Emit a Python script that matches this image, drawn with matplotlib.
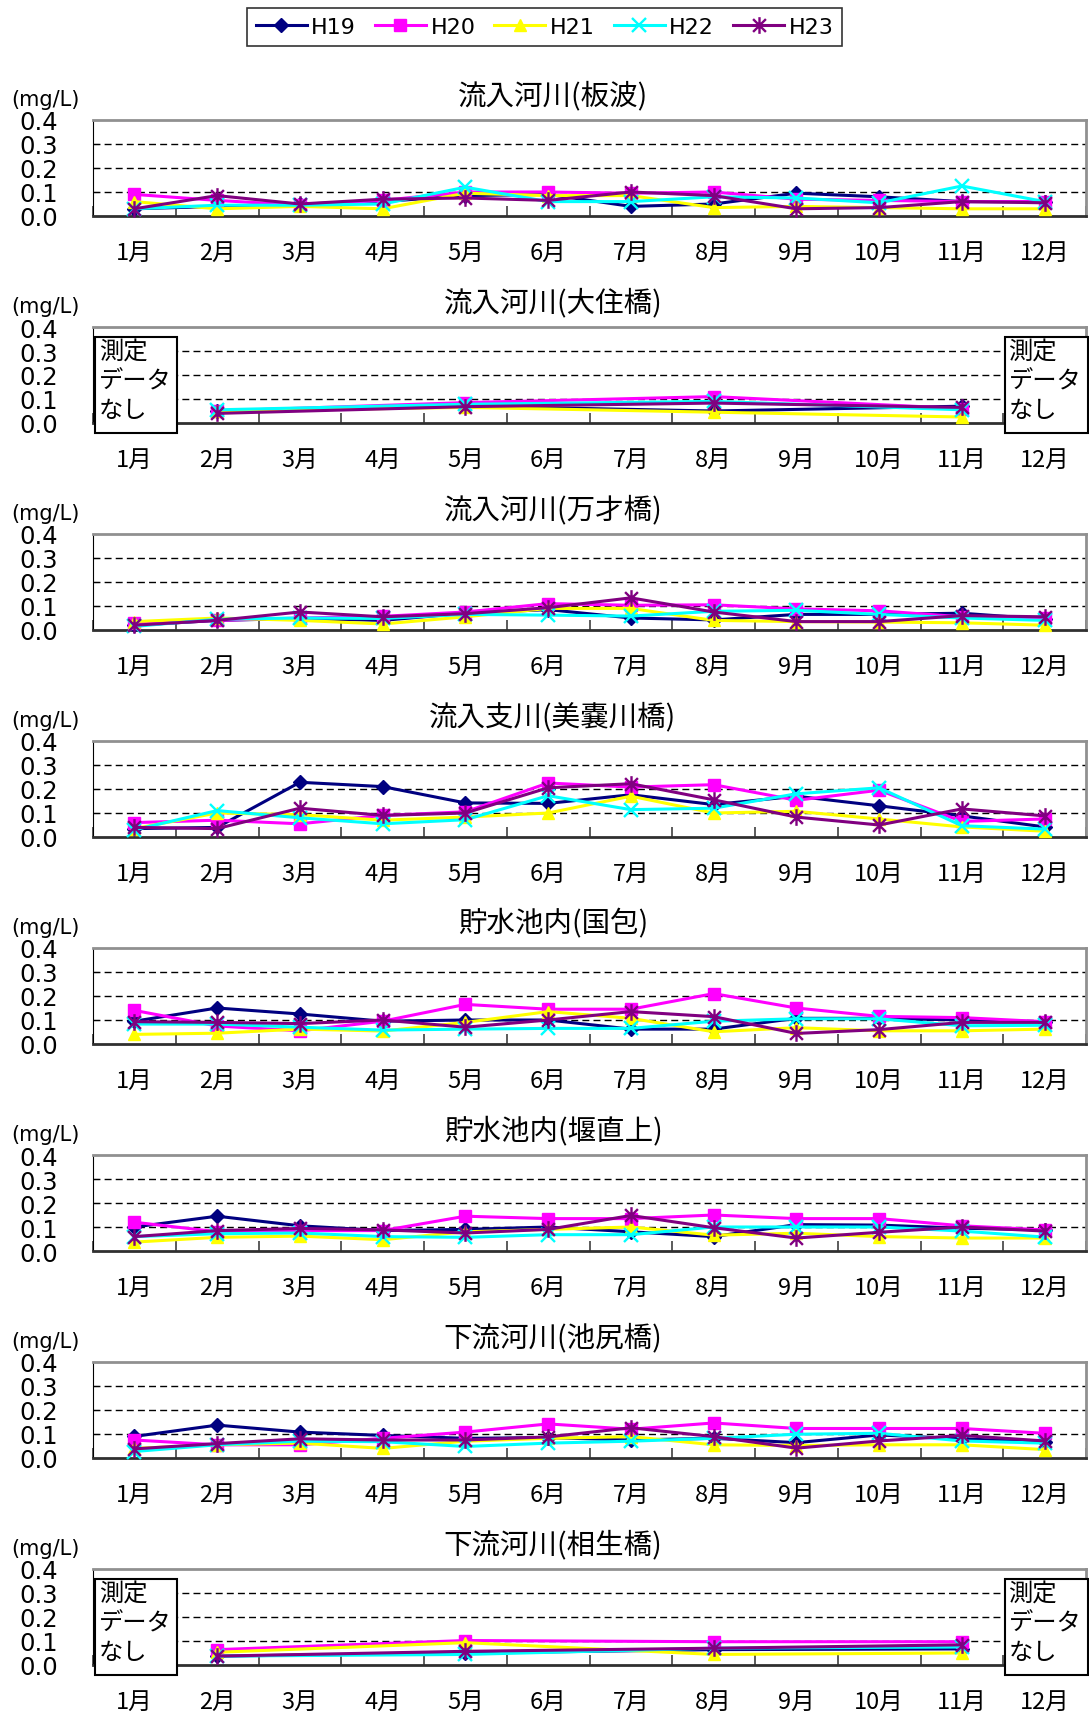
import matplotlib
matplotlib.use('Agg')
import matplotlib.pyplot as plt
from matplotlib.path import Path
from matplotlib.patches import Rectangle
import numpy as np

plt.rcParams['font.family'] = ['Noto Sans CJK JP', 'DejaVu Sans']

months = ['%d月' % m for m in range(1, 13)]
years = ['H19', 'H20', 'H21', 'H22', 'H23']
colors = ['#000080', '#FF00FF', '#FFFF00', '#00FFFF', '#800080']

N = None
# rows: H19, H20, H21, H22, H23 ; columns: Jan..Dec (mg/L)
banami = [
    [0.03, 0.04, 0.05, 0.06, 0.085, 0.09, 0.04, 0.05, 0.095, 0.08, 0.06, 0.06],
    [0.09, 0.065, 0.045, 0.065, 0.10, 0.10, 0.095, 0.10, 0.07, 0.065, 0.06, 0.06],
    [0.06, 0.03, 0.04, 0.03, 0.095, 0.085, 0.085, 0.035, 0.04, 0.035, 0.03, 0.03],
    [0.03, 0.045, 0.045, 0.05, 0.12, 0.06, 0.06, 0.08, 0.075, 0.055, 0.125, 0.06],
    [0.03, 0.085, 0.05, 0.07, 0.075, 0.065, 0.10, 0.085, 0.03, 0.035, 0.06, 0.055],
]
osumi = [
    [N, 0.05, N, N, 0.07, N, N, 0.05, N, N, 0.07, N],
    [N, 0.05, N, N, 0.085, N, N, 0.11, N, N, 0.06, N],
    [N, 0.05, N, N, 0.065, N, N, 0.045, N, N, 0.025, N],
    [N, 0.055, N, N, 0.078, N, N, 0.09, N, N, 0.055, N],
    [N, 0.04, N, N, 0.068, N, N, 0.083, N, N, 0.065, N],
]
bansai = [
    [0.02, 0.04, 0.048, 0.04, 0.07, 0.085, 0.05, 0.042, 0.065, 0.065, 0.07, 0.045],
    [0.03, 0.04, 0.05, 0.057, 0.075, 0.11, 0.103, 0.105, 0.088, 0.08, 0.055, 0.05],
    [0.035, 0.05, 0.04, 0.025, 0.055, 0.09, 0.09, 0.04, 0.035, 0.033, 0.03, 0.02],
    [0.015, 0.045, 0.05, 0.048, 0.065, 0.062, 0.058, 0.078, 0.082, 0.065, 0.05, 0.04],
    [0.02, 0.04, 0.075, 0.055, 0.068, 0.093, 0.134, 0.075, 0.035, 0.035, 0.06, 0.055],
]
minogawa = [
    [0.035, 0.04, 0.228, 0.21, 0.142, 0.14, 0.176, 0.135, 0.17, 0.13, 0.088, 0.042],
    [0.06, 0.07, 0.055, 0.09, 0.105, 0.225, 0.208, 0.218, 0.153, 0.195, 0.065, 0.075],
    [0.035, 0.10, 0.093, 0.07, 0.083, 0.10, 0.17, 0.10, 0.107, 0.075, 0.042, 0.024],
    [0.03, 0.11, 0.08, 0.055, 0.072, 0.172, 0.114, 0.12, 0.18, 0.205, 0.047, 0.033],
    [0.04, 0.035, 0.12, 0.09, 0.10, 0.205, 0.222, 0.155, 0.083, 0.05, 0.117, 0.088],
]
kunikane = [
    [0.095, 0.15, 0.125, 0.095, 0.10, 0.10, 0.062, 0.062, 0.107, 0.107, 0.10, 0.093],
    [0.14, 0.075, 0.055, 0.095, 0.165, 0.145, 0.145, 0.21, 0.15, 0.115, 0.11, 0.093],
    [0.04, 0.045, 0.062, 0.054, 0.09, 0.135, 0.107, 0.051, 0.068, 0.055, 0.055, 0.062],
    [0.083, 0.083, 0.07, 0.058, 0.062, 0.065, 0.065, 0.095, 0.105, 0.105, 0.076, 0.078],
    [0.093, 0.09, 0.085, 0.10, 0.07, 0.10, 0.135, 0.114, 0.044, 0.06, 0.09, 0.09],
]
sekijo = [
    [0.10, 0.145, 0.105, 0.085, 0.09, 0.10, 0.08, 0.06, 0.11, 0.108, 0.095, 0.088],
    [0.12, 0.08, 0.085, 0.085, 0.145, 0.135, 0.135, 0.15, 0.135, 0.135, 0.105, 0.088],
    [0.037, 0.057, 0.062, 0.047, 0.08, 0.09, 0.10, 0.066, 0.074, 0.06, 0.054, 0.054],
    [0.06, 0.072, 0.075, 0.06, 0.057, 0.068, 0.068, 0.10, 0.10, 0.10, 0.083, 0.058],
    [0.06, 0.085, 0.094, 0.088, 0.075, 0.09, 0.148, 0.097, 0.054, 0.078, 0.10, 0.083],
]
ikejiri = [
    [0.09, 0.137, 0.108, 0.094, 0.082, 0.085, 0.075, 0.082, 0.064, 0.096, 0.08, 0.066],
    [0.075, 0.055, 0.055, 0.082, 0.108, 0.142, 0.12, 0.146, 0.123, 0.123, 0.123, 0.103],
    [0.04, 0.055, 0.062, 0.04, 0.07, 0.082, 0.089, 0.055, 0.052, 0.055, 0.055, 0.035],
    [0.027, 0.055, 0.07, 0.068, 0.048, 0.062, 0.07, 0.082, 0.099, 0.103, 0.071, 0.062],
    [0.038, 0.06, 0.08, 0.075, 0.075, 0.088, 0.126, 0.089, 0.041, 0.071, 0.094, 0.071],
]
aioi = [
    [N, 0.037, N, N, 0.05, N, N, 0.064, N, N, 0.067, N],
    [N, 0.064, N, N, 0.102, N, N, 0.097, N, N, 0.097, N],
    [N, 0.053, N, N, 0.093, N, N, 0.044, N, N, 0.05, N],
    [N, 0.037, N, N, 0.044, N, N, 0.07, N, N, 0.075, N],
    [N, 0.037, N, N, 0.057, N, N, 0.07, N, N, 0.084, N],
]

panels = [
    ('流入河川(板波)', banami, False),
    ('流入河川(大住橋)', osumi, True),
    ('流入河川(万才橋)', bansai, False),
    ('流入支川(美嚢川橋)', minogawa, False),
    ('貯水池内(国包)', kunikane, False),
    ('貯水池内(堰直上)', sekijo, False),
    ('下流河川(池尻橋)', ikejiri, False),
    ('下流河川(相生橋)', aioi, True),
]

# Excel-style asterisk: an x with a vertical bar
star = Path([(-1, -1), (1, 1), (-1, 1), (1, -1), (0, -1.3), (0, 1.3)],
            [Path.MOVETO, Path.LINETO, Path.MOVETO, Path.LINETO,
             Path.MOVETO, Path.LINETO])
styles = [
    dict(marker='D', ms=7.5),
    dict(marker='s', ms=8.5),
    dict(marker='^', ms=8.5),
    dict(marker='x', ms=9.5, mew=1.7),
    dict(marker=star, ms=12, mew=1.7),
]

W, H = 1089, 1715
fig = plt.figure(figsize=(W / 100, H / 100), dpi=100)

ax_left, ax_right = 93, 1086
ax_h = 96
handles = []
for i, (title, data, nodata) in enumerate(panels):
    top = 121 + i * 207
    ax = fig.add_axes([ax_left / W, 1 - (top + ax_h) / H,
                       (ax_right - ax_left) / W, ax_h / H])
    x = np.arange(1, 13)
    for k, series in enumerate(data):
        y = np.array([np.nan if v is None else v for v in series], float)
        ok = ~np.isnan(y)
        ln, = ax.plot(x[ok], y[ok], color=colors[k], lw=2.2,
                      mfc=colors[k], mec=colors[k], label=years[k],
                      clip_on=False, zorder=3 + k, **styles[k])
        if i == 0:
            handles.append(ln)
    ax.set_xlim(0.5, 12.5)
    ax.set_ylim(0, 0.4)
    for g in (0.1, 0.2, 0.3):
        ax.axhline(g, color='black', lw=1, ls=(0, (5, 3)), zorder=1)
    ax.set_yticks([0, 0.1, 0.2, 0.3, 0.4])
    ax.set_yticklabels(['0.0', '0.1', '0.2', '0.3', '0.4'],
                       family='DejaVu Sans', fontsize=17.5)
    ax.tick_params(axis='y', direction='in', length=4, pad=25)
    ax.set_xticks(x)
    ax.set_xticklabels(months, fontsize=17)
    ax.set_xticks(np.arange(0.5, 13, 1), minor=True)
    ax.tick_params(axis='x', which='major', length=0, pad=18)
    ax.tick_params(axis='x', which='minor', direction='in', length=7,
                   width=1.2, color='#404040')
    for s in ('top', 'right'):
        ax.spines[s].set_color('#909090')
        ax.spines[s].set_linewidth(2)
    ax.spines['bottom'].set_color('#303030')
    ax.spines['bottom'].set_linewidth(2)
    ax.spines['left'].set_color('black')

    fig.text(553 / W, 1 - (top - 25) / H, title, ha='center', va='center',
             fontsize=20.5)
    fig.text(11 / W, 1 - (top - 21) / H, '(mg/L)', ha='left', va='center',
             family='DejaVu Sans', fontsize=15)

    if nodata:
        for x0, x1 in ((0.002, 0.085), (0.918, 1.002)):
            ax.add_patch(Rectangle((x0, -0.1), x1 - x0, 1.0,
                                   transform=ax.transAxes, fc='white',
                                   ec='black', lw=1.5, clip_on=False,
                                   zorder=10))
            ax.text(x0 + 0.004, 0.88, '測定\nデータ\nなし',
                    transform=ax.transAxes, ha='left', va='top',
                    fontsize=17.5, linespacing=1.15, zorder=11)

leg = fig.legend(handles=handles, loc='upper center',
                 bbox_to_anchor=(0.5, 1 - 9 / H), ncol=5,
                 frameon=True, fancybox=False, edgecolor='black',
                 handlelength=2.3, handletextpad=0.2, columnspacing=0.85,
                 borderpad=0.4, borderaxespad=0,
                 prop={'family': 'DejaVu Sans', 'size': 16})
leg.get_frame().set_linewidth(1.2)

fig.savefig('out.png', dpi=100, facecolor='white')
